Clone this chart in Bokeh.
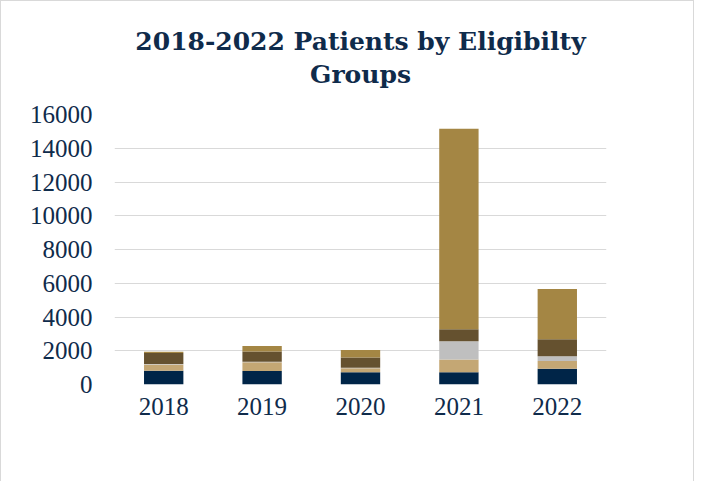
from bokeh.plotting import figure
from bokeh.models import Range1d, Legend, LegendItem, Title, FactorRange, SingleIntervalTicker
from bokeh.embed import file_html
from bokeh.resources import INLINE

years = ["2018", "2019", "2020", "2021", "2022"]
medicaid = [820, 800, 720, 720, 930]
uninsured = [360, 520, 240, 760, 460]
underinsured = [40, 30, 40, 1080, 280]
private = [640, 610, 600, 720, 1010]
s317 = [80, 320, 440, 11870, 2980]

series_names = ["Medicaid", "Uninsured", "Underinsured", "Private", "317*"]
colors = ["#002548", "#C4A774", "#BFBFBF", "#65512F", "#A48644"]
title_lines = ["2018-2022 Patients by Eligibilty", "Groups"]

data = {"years": years, "Medicaid": medicaid, "Uninsured": uninsured,
        "Underinsured": underinsured, "Private": private, "317*": s317}

p = figure(x_range=FactorRange(*years, range_padding=0), y_range=Range1d(0, 16000),
           frame_width=492, frame_height=270, width=692, height=478,
           output_backend="svg", toolbar_location=None,
           min_border_left=113, min_border_right=87, min_border_top=113, min_border_bottom=0)

renderers = p.vbar_stack(series_names, x="years", width=0.4, color=colors, source=data,
                         line_color=None)

spacer = Title(text=" ", text_font_size="10px", standoff=12)
t2 = Title(text=title_lines[1], align="center", text_font="DejaVu Serif", text_font_size="25px",
           text_font_style="bold", text_color="#0F2B4B", standoff=2, offset=3)
t1 = Title(text=title_lines[0], align="center", text_font="DejaVu Serif", text_font_size="25px",
           text_font_style="bold", text_color="#0F2B4B", standoff=2, offset=3)
p.add_layout(spacer, "above")
p.add_layout(t2, "above")
p.add_layout(t1, "above")

p.outline_line_color = None
p.xgrid.grid_line_color = None
p.ygrid.grid_line_color = "#D9D9D9"
p.ygrid.grid_line_width = 1
p.yaxis.ticker = SingleIntervalTicker(interval=2000)

for ax in (p.xaxis, p.yaxis):
    ax.axis_line_color = None
    ax.major_tick_line_color = None
    ax.minor_tick_line_color = None
    ax.major_tick_out = 0
    ax.major_tick_in = 0
    ax.major_label_text_font = "Liberation Serif"
    ax.major_label_text_font_size = "25px"
    ax.major_label_text_color = "#0F2B4B"
p.yaxis.major_label_standoff = 18
p.xaxis.major_label_standoff = 13

items = [LegendItem(label=n, renderers=[r]) for n, r in zip(series_names, renderers)]
legend = Legend(items=items, orientation="horizontal", nrows=1, ncols=5,
                label_text_font="Liberation Serif",
                label_text_font_size="23px", label_text_color="#0F2B4B",
                glyph_width=13, glyph_height=13, spacing=23, label_standoff=3,
                border_line_color=None, background_fill_alpha=0, margin=0, padding=0,
                location="center")
p.add_layout(legend, "below")

p.styles = {"border": "1px solid #D9D9D9"}

open("out.html", "w").write(file_html(p, INLINE))
